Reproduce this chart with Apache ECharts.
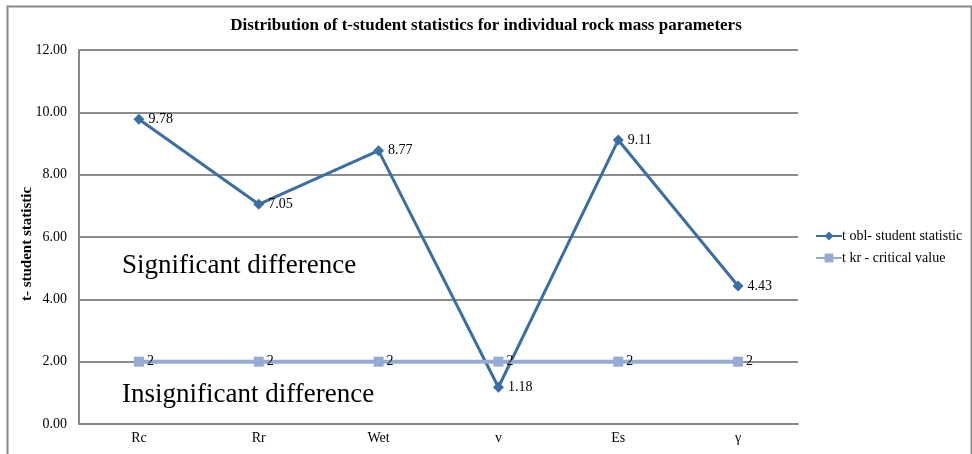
<!DOCTYPE html>
<html>
<head>
<meta charset="utf-8">
<script src="https://cdn.jsdelivr.net/npm/echarts@6/dist/echarts.min.js"></script>
<style>
html,body{margin:0;padding:0;background:#fff;}
#c{width:972px;height:454px;}
</style>
</head>
<body>
<div id="c"></div>
<script>
const categories = ['Rc', 'Rr', 'Wet', 'v', 'Es', 'γ'];
const tObl = [9.78, 7.05, 8.77, 1.18, 9.11, 4.43];
const tKr = [2, 2, 2, 2, 2, 2];
const seriesNames = ['t obl- student statistic', 't kr - critical value'];
const titleText = 'Distribution of t-student statistics for individual rock mass parameters';
const yAxisTitle = 't- student statistic';
const noteUpper = 'Significant difference';
const noteLower = 'Insignificant difference';

const serif = '"Liberation Serif", "Times New Roman", serif';
const chart = echarts.init(document.getElementById('c'));
chart.setOption({
  animation: false,
  backgroundColor: '#fff',
  textStyle: { fontFamily: serif },
  title: {
    text: titleText,
    left: 'center',
    top: 12,
    textStyle: { fontFamily: serif, fontSize: 17, fontWeight: 'bold', color: '#000' }
  },
  legend: {
    orient: 'vertical',
    left: 810,
    top: 224,
    itemWidth: 26,
    itemHeight: 11,
    itemGap: 8,
    textStyle: { fontFamily: serif, fontSize: 14, color: '#000', padding: [0, 0, 0, -5] },
    data: seriesNames
  },
  grid: { left: 79, right: 174, top: 50, bottom: 30, containLabel: false },
  xAxis: {
    type: 'category',
    data: categories,
    boundaryGap: true,
    axisLine: { show: true, lineStyle: { color: '#888', width: 2 } },
    axisTick: { show: false },
    axisLabel: { fontFamily: serif, fontSize: 14, color: '#000', margin: 7 }
  },
  yAxis: {
    type: 'value',
    min: 0,
    max: 12,
    interval: 2,
    name: yAxisTitle,
    nameLocation: 'middle',
    nameGap: 44,
    nameMoveOverlap: false,
    nameTextStyle: { fontFamily: serif, fontSize: 15, fontWeight: 'bold', color: '#000', padding: [0, 14, 0, 0] },
    axisLine: { show: true, lineStyle: { color: '#888', width: 2 } },
    axisTick: { show: false },
    axisLabel: { fontFamily: serif, fontSize: 14, color: '#000', margin: 12,
      formatter: v => v.toFixed(2) },
    splitLine: { show: true, lineStyle: { color: '#8c8c8c', width: 2 } }
  },
  series: [
    {
      name: seriesNames[0],
      type: 'line',
      data: tObl,
      z: 2,
      symbol: 'diamond',
      symbolSize: 11,
      lineStyle: { color: '#3a6ea5', width: 3 },
      itemStyle: { color: '#3a6ea5' },
      label: { show: true, position: 'right', distance: 4, fontFamily: serif, fontSize: 14, color: '#000',
        formatter: p => p.value.toFixed(2) }
    },
    {
      name: seriesNames[1],
      type: 'line',
      data: tKr,
      z: 3,
      symbol: 'rect',
      symbolSize: 10,
      lineStyle: { color: '#95abd3', width: 4 },
      itemStyle: { color: '#95abd3' },
      label: { show: true, position: 'right', distance: 3, fontFamily: serif, fontSize: 14, color: '#000',
        formatter: p => String(p.value) }
    }
  ],
  graphic: [
    { type: 'rect', left: 5, top: 4, z: -1, silent: true,
      shape: { width: 964, height: 460 },
      style: { fill: 'none', stroke: '#888', lineWidth: 2 } },
    { type: 'text', left: 122, top: 252, z: 10,
      style: { text: noteUpper, fontFamily: serif, fontSize: 27, fill: '#000' } },
    { type: 'text', left: 122, top: 381, z: 10,
      style: { text: noteLower, fontFamily: serif, fontSize: 27, fill: '#000' } }
  ]
});
</script>
</body>
</html>
